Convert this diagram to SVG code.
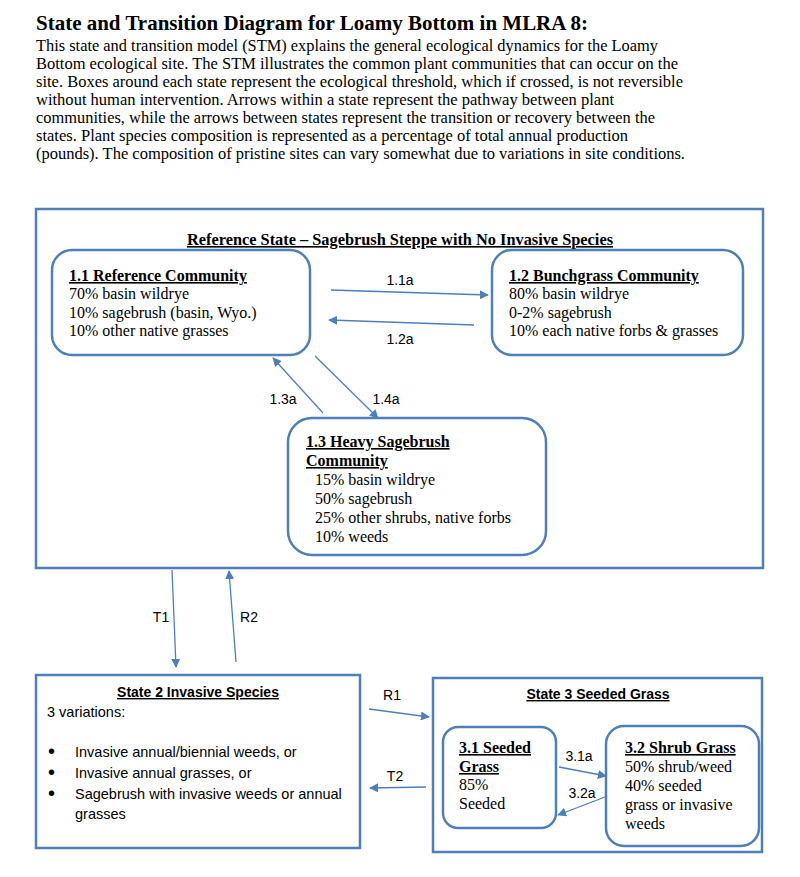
<svg xmlns="http://www.w3.org/2000/svg" width="800" height="877" viewBox="0 0 800 877">
<style>
.bg{fill:#ffffff}
.state{fill:none;stroke:#4f7fb8;stroke-width:2.5}
.comm{fill:#ffffff;stroke:#4f7fb8;stroke-width:2.5}
.serif{font-family:"Liberation Serif","Times New Roman",serif;fill:#000}
.body{font-size:16px}
.head{font-size:16px;font-weight:bold;text-decoration:underline}
.intro{font-size:17px}
.title{font-size:21px;font-weight:bold}
.sans{font-family:"Liberation Sans",Arial,sans-serif;fill:#000}
.lbl{font-size:14px}
.txt{font-size:14.5px}
.bul{font-size:20px}
.conn line{stroke:#4f7fb8;stroke-width:1.3;marker-end:url(#ah)}
</style>
<defs>
<marker id="ah" viewBox="0 0 10 10" refX="9" refY="5" markerWidth="9" markerHeight="9" markerUnits="userSpaceOnUse" orient="auto">
<path d="M0,0 L10,5 L0,10 z" fill="#4f7fb8"/>
</marker>
</defs>
<rect class="bg" width="800" height="877"/>
<g id="intro">
<text class="serif title" x="36" y="30" textLength="552" lengthAdjust="spacingAndGlyphs">State and Transition Diagram for Loamy Bottom in MLRA 8:</text>
<text class="serif intro" x="36" y="51" textLength="622" lengthAdjust="spacingAndGlyphs">This state and transition model (STM) explains the general ecological dynamics for the Loamy</text>
<text class="serif intro" x="36" y="69" textLength="642" lengthAdjust="spacingAndGlyphs">Bottom ecological site.  The STM illustrates the common plant communities that can occur on the</text>
<text class="serif intro" x="36" y="87" textLength="647" lengthAdjust="spacingAndGlyphs">site.  Boxes around each state represent the ecological threshold, which if crossed, is not reversible</text>
<text class="serif intro" x="36" y="105" textLength="578" lengthAdjust="spacingAndGlyphs">without human intervention.  Arrows within a state represent the pathway between plant</text>
<text class="serif intro" x="36" y="123" textLength="619" lengthAdjust="spacingAndGlyphs">communities, while the arrows between states represent the transition or recovery between the</text>
<text class="serif intro" x="36" y="141" textLength="592" lengthAdjust="spacingAndGlyphs">states.  Plant species composition is represented as a percentage of total annual production</text>
<text class="serif intro" x="36" y="159" textLength="649" lengthAdjust="spacingAndGlyphs">(pounds).  The composition of pristine sites can vary somewhat due to variations in site conditions.</text>
</g>
<g id="state1">
<rect class="state" x="36" y="209" width="727" height="359"/>
<text class="serif head" x="400" y="245" text-anchor="middle" textLength="426" lengthAdjust="spacingAndGlyphs">Reference State – Sagebrush Steppe with No Invasive Species</text>
</g>
<g id="c1_1">
<rect class="comm" x="52" y="250" width="258" height="105" rx="20"/>
<text class="serif head" x="69" y="281">1.1 Reference Community</text>
<text class="serif body" x="69" y="299">70% basin wildrye</text>
<text class="serif body" x="69" y="318">10% sagebrush (basin, Wyo.)</text>
<text class="serif body" x="69" y="336">10% other native grasses</text>
</g>
<g id="c1_2">
<rect class="comm" x="492" y="250" width="251" height="105" rx="20"/>
<text class="serif head" x="509" y="281">1.2 Bunchgrass Community</text>
<text class="serif body" x="509" y="299">80% basin wildrye</text>
<text class="serif body" x="509" y="318">0-2% sagebrush</text>
<text class="serif body" x="509" y="336">10% each native forbs &amp; grasses</text>
</g>
<g id="c1_3">
<rect class="comm" x="288" y="418" width="258" height="137" rx="24"/>
<text class="serif head" x="306" y="447">1.3 Heavy Sagebrush</text>
<text class="serif head" x="306" y="466">Community</text>
<text class="serif body" x="315" y="485">15% basin wildrye</text>
<text class="serif body" x="315" y="504">50% sagebrush</text>
<text class="serif body" x="315" y="523">25% other shrubs, native forbs</text>
<text class="serif body" x="315" y="542">10% weeds</text>
</g>
<g id="state2">
<rect class="state" x="36" y="675" width="324" height="173"/>
<text class="sans lbl" x="198" y="697" text-anchor="middle" font-weight="bold" text-decoration="underline">State 2 Invasive Species</text>
<text class="sans txt" x="47" y="717">3 variations:</text>
<text class="sans bul" x="48" y="758">•</text>
<text class="sans txt" x="75" y="757">Invasive annual/biennial weeds, or</text>
<text class="sans bul" x="48" y="779">•</text>
<text class="sans txt" x="75" y="778">Invasive annual grasses, or</text>
<text class="sans bul" x="48" y="800">•</text>
<text class="sans txt" x="75" y="799">Sagebrush with invasive weeds or annual</text>
<text class="sans txt" x="75" y="819">grasses</text>
</g>
<g id="state3">
<rect class="state" x="433" y="678" width="329" height="174"/>
<text class="sans lbl" x="598" y="699" text-anchor="middle" font-weight="bold" text-decoration="underline">State 3 Seeded Grass</text>
</g>
<g id="c3_1">
<rect class="comm" x="443" y="727" width="113" height="101" rx="15"/>
<text class="serif head" x="459" y="753">3.1 Seeded</text>
<text class="serif head" x="459" y="772">Grass</text>
<text class="serif body" x="459" y="790">85%</text>
<text class="serif body" x="459" y="809">Seeded</text>
</g>
<g id="c3_2">
<rect class="comm" x="606" y="726" width="153" height="120" rx="18"/>
<text class="serif head" x="625" y="753">3.2 Shrub Grass</text>
<text class="serif body" x="625" y="772">50% shrub/weed</text>
<text class="serif body" x="625" y="791">40% seeded</text>
<text class="serif body" x="625" y="810">grass or invasive</text>
<text class="serif body" x="625" y="829">weeds</text>
</g>
<g id="connectors" class="conn">
<line x1="331" y1="290" x2="488" y2="295"/>
<line x1="474" y1="325" x2="329" y2="320"/>
<line x1="323" y1="413" x2="273" y2="358"/>
<line x1="315" y1="356" x2="378" y2="418"/>
<line x1="172" y1="570" x2="176" y2="667"/>
<line x1="236" y1="662" x2="229" y2="571"/>
<line x1="369" y1="709" x2="429" y2="717"/>
<line x1="426" y1="787" x2="370" y2="788"/>
<line x1="559" y1="767" x2="606" y2="776"/>
<line x1="605" y1="797" x2="558" y2="815"/>
</g>
<g id="labels">
<text class="sans lbl" x="400" y="285" text-anchor="middle">1.1a</text>
<text class="sans lbl" x="400" y="344" text-anchor="middle">1.2a</text>
<text class="sans lbl" x="283" y="404" text-anchor="middle">1.3a</text>
<text class="sans lbl" x="386" y="404" text-anchor="middle">1.4a</text>
<text class="sans lbl" x="161" y="622" text-anchor="middle">T1</text>
<text class="sans lbl" x="249" y="622" text-anchor="middle">R2</text>
<text class="sans lbl" x="392" y="700" text-anchor="middle">R1</text>
<text class="sans lbl" x="395" y="781" text-anchor="middle">T2</text>
<text class="sans lbl" x="579" y="761" text-anchor="middle">3.1a</text>
<text class="sans lbl" x="582" y="798" text-anchor="middle">3.2a</text>
</g>
</svg>
